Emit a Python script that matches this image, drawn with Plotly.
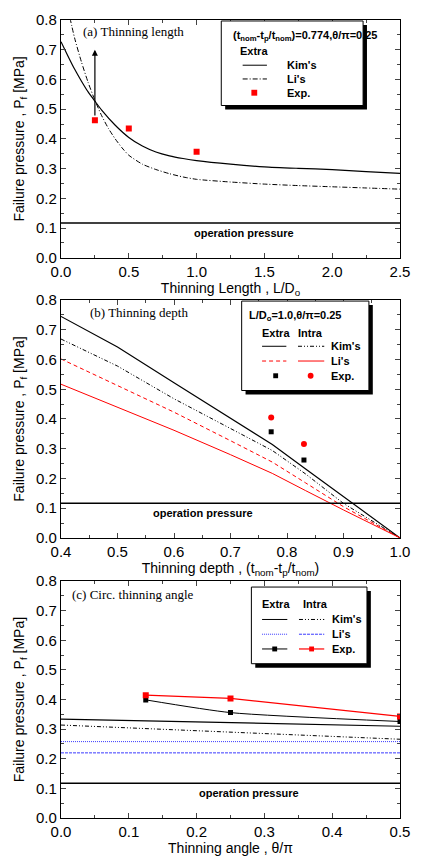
import plotly.graph_objects as go

# ---------------- data ----------------
# (a) thinning length
a_x = [0, 0.05, 0.1, 0.15, 0.2, 0.25, 0.3, 0.4, 0.5, 0.6, 0.7, 0.8, 0.9, 1.0, 1.25, 1.5, 1.75, 2.0, 2.25, 2.5]
a_kim = [0.727, 0.68, 0.635, 0.595, 0.558, 0.527, 0.497, 0.446, 0.405, 0.376, 0.356, 0.343, 0.334, 0.327, 0.315, 0.306, 0.301, 0.297, 0.29, 0.284]
a_li_x = [0.05, 0.1, 0.15, 0.2, 0.25, 0.3, 0.35, 0.4, 0.45, 0.5, 0.6, 0.7, 0.8, 0.9, 1.0, 1.25, 1.5, 1.75, 2.0, 2.25, 2.5]
a_li = [0.84, 0.74, 0.66, 0.59, 0.53, 0.478, 0.435, 0.40, 0.37, 0.345, 0.315, 0.297, 0.283, 0.272, 0.264, 0.255, 0.248, 0.243, 0.239, 0.235, 0.231]
a_exp_x = [0.25, 0.5, 1.0]
a_exp = [0.463, 0.435, 0.357]

# (b) thinning depth
b_x = [0.4, 0.5, 0.6, 0.7, 0.774, 0.833, 0.9, 1.0]
b_kim_extra = [0.745, 0.642, 0.522, 0.403, 0.314, 0.232, 0.14, 0.0]
b_kim_intra = [0.669, 0.578, 0.468, 0.368, 0.294, 0.215, 0.116, 0.0]
b_li_extra = [0.602, 0.513, 0.423, 0.327, 0.255, 0.185, 0.105, 0.0]
b_li_intra = [0.517, 0.44, 0.362, 0.28, 0.217, 0.159, 0.094, 0.0]
b_exp_x = [0.772, 0.83]
b_exp_extra = [0.357, 0.262]
b_exp_intra = [0.405, 0.316]

# (c) circumferential thinning angle
c_x = [0.0, 0.125, 0.25, 0.375, 0.5]
c_kim_extra = [0.334, 0.328, 0.322, 0.316, 0.310]
c_kim_intra = [0.314, 0.302, 0.289, 0.277, 0.266]
c_li_extra = [0.258, 0.258, 0.258, 0.258, 0.258]
c_li_intra = [0.220, 0.220, 0.220, 0.220, 0.220]
c_exp_x = [0.125, 0.25, 0.5]
c_exp_extra = [0.399, 0.356, 0.326]
c_exp_intra = [0.415, 0.404, 0.343]

op_pressure = 0.117

# ---------------- layout helpers ----------------
W, H = 421, 865
ML, MR, MT, MB = 61, 11, 13, 40
PW = W - ML - MR
PH = H - MT - MB

def PX(px):
    return (px - ML) / PW

def PY(py):
    return (H - MB - py) / PH

RED = "#ff0000"
BLUE = "#3a3aff"
SANS = "Liberation Sans, Arial, sans-serif"
SERIF = "Liberation Serif, Times New Roman, serif"
DASHDOT = "5px,2px,1px,2px"
DASHDOTDOT = "4px,2px,1px,2px,1px,2px"

fig = go.Figure()

# ---- (a) ----
fig.add_trace(go.Scatter(x=a_x, y=a_kim, mode="lines", line=dict(color="black", width=1.2, shape="spline", smoothing=0.6), xaxis="x", yaxis="y", showlegend=False))
fig.add_trace(go.Scatter(x=a_li_x, y=a_li, mode="lines", line=dict(color="black", width=1, dash=DASHDOT, shape="spline", smoothing=0.6), xaxis="x", yaxis="y", showlegend=False))
fig.add_trace(go.Scatter(x=a_exp_x, y=a_exp, mode="markers", marker=dict(symbol="square", color=RED, size=6), xaxis="x", yaxis="y", showlegend=False))

# ---- (b) ----
fig.add_trace(go.Scatter(x=b_x, y=b_kim_extra, mode="lines", line=dict(color="black", width=1.2), xaxis="x2", yaxis="y2", showlegend=False))
fig.add_trace(go.Scatter(x=b_x, y=b_kim_intra, mode="lines", line=dict(color="black", width=1, dash=DASHDOTDOT), xaxis="x2", yaxis="y2", showlegend=False))
fig.add_trace(go.Scatter(x=b_x, y=b_li_extra, mode="lines", line=dict(color=RED, width=1, dash="4px,3px"), xaxis="x2", yaxis="y2", showlegend=False))
fig.add_trace(go.Scatter(x=b_x, y=b_li_intra, mode="lines", line=dict(color=RED, width=1), xaxis="x2", yaxis="y2", showlegend=False))
fig.add_trace(go.Scatter(x=b_exp_x, y=b_exp_extra, mode="markers", marker=dict(symbol="square", color="black", size=5), xaxis="x2", yaxis="y2", showlegend=False))
fig.add_trace(go.Scatter(x=b_exp_x, y=b_exp_intra, mode="markers", marker=dict(symbol="circle", color=RED, size=6), xaxis="x2", yaxis="y2", showlegend=False))

# ---- (c) ----
fig.add_trace(go.Scatter(x=c_x, y=c_kim_extra, mode="lines", line=dict(color="black", width=1.2), xaxis="x3", yaxis="y3", showlegend=False))
fig.add_trace(go.Scatter(x=c_x, y=c_kim_intra, mode="lines", line=dict(color="black", width=1, dash=DASHDOTDOT), xaxis="x3", yaxis="y3", showlegend=False))
fig.add_trace(go.Scatter(x=c_x, y=c_li_extra, mode="lines", line=dict(color=BLUE, width=1, dash="1px,1px"), xaxis="x3", yaxis="y3", showlegend=False))
fig.add_trace(go.Scatter(x=c_x, y=c_li_intra, mode="lines", line=dict(color=BLUE, width=1, dash="3px,1px"), xaxis="x3", yaxis="y3", showlegend=False))
fig.add_trace(go.Scatter(x=c_exp_x, y=c_exp_extra, mode="lines+markers", line=dict(color="black", width=1, shape="spline", smoothing=0.6), marker=dict(symbol="square", color="black", size=5), xaxis="x3", yaxis="y3", showlegend=False))
fig.add_trace(go.Scatter(x=c_exp_x, y=c_exp_intra, mode="lines+markers", line=dict(color=RED, width=1.2), marker=dict(symbol="square", color=RED, size=6), xaxis="x3", yaxis="y3", showlegend=False))

# ---------------- axes ----------------
def xax(rng, dtick, minor, dom_anchor, title):
    return dict(range=rng, dtick=dtick, tick0=rng[0], tickformat=".1f", ticks="inside", ticklen=5, tickwidth=1,
                minor=dict(dtick=minor, ticks="inside", ticklen=3, tickwidth=1, tick0=rng[0]),
                showline=True, linecolor="black", linewidth=1.3, mirror="allticks", showgrid=False, zeroline=False,
                anchor=dom_anchor, domain=[0, 1],
                tickfont=dict(family=SANS, size=15, color="black"),
                title=dict(text=title, font=dict(family=SANS, size=14, color="black"), standoff=4))

def yax(dom, anchor):
    return dict(range=[0, 0.8], dtick=0.1, tick0=0, tickformat=".1f", ticks="inside", ticklen=5, tickwidth=1,
                minor=dict(dtick=0.05, ticks="inside", ticklen=3, tickwidth=1),
                showline=True, linecolor="black", linewidth=1.3, mirror="allticks", showgrid=False, zeroline=False,
                anchor=anchor, domain=dom,
                tickfont=dict(family=SANS, size=15, color="black"),
                title=dict(text="Failure pressure , P<sub>f</sub> [MPa]", font=dict(family=SANS, size=14, color="black"), standoff=8))

dom_a = [PY(255), PY(13)]
dom_b = [PY(540), PY(298)]
dom_c = [PY(825), PY(584)]

fig.update_layout(
    width=W, height=H,
    margin=dict(l=ML, r=MR, t=MT, b=MB),
    paper_bgcolor="white", plot_bgcolor="white",
    xaxis=xax([0, 2.5], 0.5, 0.25, "y", "Thinning Length , L/D<sub>o</sub>"),
    yaxis=yax(dom_a, "x"),
    xaxis2=xax([0.4, 1.0], 0.1, 0.05, "y2", "Thinning depth , (t<sub>nom</sub>-t<sub>p</sub>/t<sub>nom</sub>)"),
    yaxis2=yax(dom_b, "x2"),
    xaxis3=xax([0, 0.5], 0.1, 0.05, "y3", "Thinning angle , θ/π"),
    yaxis3=yax(dom_c, "x3"),
)

shapes = []
annotations = []

# operation pressure lines
for xr, yr in (("x", "y"), ("x2", "y2"), ("x3", "y3")):
    shapes.append(dict(type="line", xref=xr + " domain", yref=yr, x0=0, x1=1, y0=op_pressure, y1=op_pressure,
                       line=dict(color="black", width=1.5)))
for xr, yr, xv in (("x", "y", 1.35), ("x2", "y2", 0.651), ("x3", "y3", 0.278)):
    annotations.append(dict(text="<b>operation pressure</b>", xref=xr, yref=yr, x=xv, y=0.085, showarrow=False,
                            font=dict(family=SANS, size=11, color="black")))

# panel titles
for txt, px, py in (("(a) Thinning length", 82, 25), ("(b) Thinning depth", 89, 311), ("(c) Circ. thinning angle", 70, 598)):
    annotations.append(dict(text=txt, xref="paper", yref="paper", x=PX(px), y=PY(py), xanchor="left", yanchor="middle",
                            showarrow=False, font=dict(family=SERIF, size=13, color="black")))

# arrow in (a)
annotations.append(dict(text="", xref="x", yref="y", x=0.25, y=0.70, axref="x", ayref="y", ax=0.25, ay=0.474,
                        showarrow=True, arrowhead=2, arrowsize=1, arrowwidth=1.2, arrowcolor="black"))

def box(x0, y0, x1, y1):
    shapes.append(dict(type="rect", xref="paper", yref="paper", x0=PX(x0 + 4), x1=PX(x1 + 4), y0=PY(y1 + 4), y1=PY(y0 + 4),
                       line=dict(width=0), fillcolor="black"))
    shapes.append(dict(type="rect", xref="paper", yref="paper", x0=PX(x0), x1=PX(x1), y0=PY(y1), y1=PY(y0),
                       line=dict(width=1, color="black"), fillcolor="white"))

def ltext(txt, px, py, anchor="left", size=11):
    annotations.append(dict(text=txt, xref="paper", yref="paper", x=PX(px), y=PY(py), xanchor=anchor, yanchor="middle",
                            showarrow=False, font=dict(family=SANS, size=size, color="black")))

def lline(x0, x1, py, color="black", dash="solid", width=1):
    shapes.append(dict(type="line", xref="paper", yref="paper", x0=PX(x0), x1=PX(x1), y0=PY(py), y1=PY(py),
                       line=dict(color=color, dash=dash, width=width)))

def lsquare(cx, cy, color, s=5):
    shapes.append(dict(type="rect", xref="paper", yref="paper", x0=PX(cx - s / 2), x1=PX(cx + s / 2),
                       y0=PY(cy + s / 2), y1=PY(cy - s / 2), line=dict(width=0), fillcolor=color))

def lcircle(cx, cy, color, s=6):
    shapes.append(dict(type="circle", xref="paper", yref="paper", x0=PX(cx - s / 2), x1=PX(cx + s / 2),
                       y0=PY(cy + s / 2), y1=PY(cy - s / 2), line=dict(width=0), fillcolor=color))

# legend (a)
box(226, 14, 372, 100)
ltext("<b>(t<sub>nom</sub>-t<sub>p</sub>/t<sub>nom</sub>)=0.774,θ/π=0.25</b>", 236, 29, size=11)
ltext("<b>Extra</b>", 260, 45, anchor="center")
lline(248, 273, 59)
ltext("<b>Kim's</b>", 292, 59)
lline(248, 273, 73, dash=DASHDOT)
ltext("<b>Li's</b>", 292, 73)
lsquare(260, 87, RED, 6)
ltext("<b>Exp.</b>", 292, 87)

# legend (b)
box(247, 299, 378, 390)
ltext("<b>L/D<sub>o</sub>=1.0,θ/π=0.25</b>", 252, 314)
ltext("<b>Extra</b>", 282, 331, anchor="center")
ltext("<b>Intra</b>", 318, 331, anchor="center")
lline(268, 293, 345)
lline(305, 332, 345, dash=DASHDOTDOT)
ltext("<b>Kim's</b>", 337, 345)
lline(268, 293, 360, color=RED, dash="4px,3px")
lline(305, 332, 360, color=RED)
ltext("<b>Li's</b>", 337, 360)
lsquare(282, 375, "black", 5)
lcircle(318, 375, RED, 6)
ltext("<b>Exp.</b>", 337, 375)

# legend (c)
box(257, 590, 376, 668)
ltext("<b>Extra</b>", 282, 607, anchor="center")
ltext("<b>Intra</b>", 323, 607, anchor="center")
lline(268, 294, 623)
lline(306, 332, 623, dash=DASHDOTDOT)
ltext("<b>Kim's</b>", 338, 623)
lline(268, 294, 638, color=BLUE, dash="1px,1px")
lline(306, 332, 638, color=BLUE, dash="3px,1px")
ltext("<b>Li's</b>", 338, 638)
lline(268, 294, 653)
lsquare(281, 653, "black", 5)
lline(306, 332, 653, color=RED, width=1.2)
lsquare(319, 653, RED, 5)
ltext("<b>Exp.</b>", 338, 653)

fig.update_layout(shapes=shapes, annotations=annotations)

fig.write_html("out.html", config={"displayModeBar": False},
               post_script="document.body.style.margin='0';")
